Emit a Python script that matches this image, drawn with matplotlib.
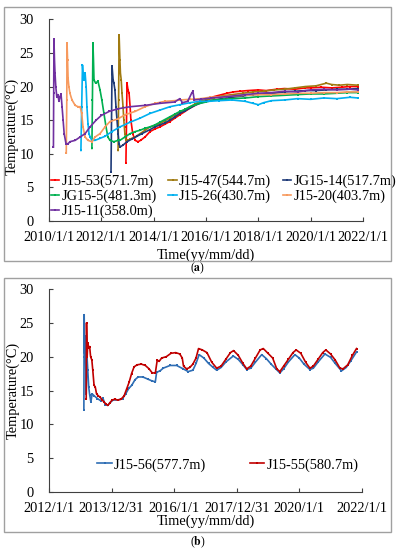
import matplotlib.pyplot as plt
from matplotlib.patches import Rectangle

plt.rcParams['font.family'] = ['Liberation Serif', 'DejaVu Serif']
plt.rcParams['mathtext.fontset'] = 'stix'
FS = 10.4

# ---- panel (a) data: decimal year, temperature (deg C)
t_j53 = [2012.94, 2012.96, 2012.98, 2013.02, 2013.06, 2013.10, 2013.13, 2013.20, 2013.29, 2013.40,
         2013.50, 2013.67, 2013.86, 2014.05, 2014.24, 2014.43, 2014.62, 2014.81, 2015.00, 2015.20,
         2015.39, 2015.58, 2015.77, 2016.00, 2016.30, 2016.60, 2016.80, 2017.05, 2017.30, 2017.60,
         2018.00, 2018.30, 2018.70, 2019.00, 2019.40, 2019.80, 2020.00, 2020.40, 2020.80, 2021.20, 2021.50, 2021.80]
T_j53 = [8.7, 14.0, 20.5, 19.5, 19.0, 17.0, 15.0, 13.0, 12.0, 11.8,
         12.0, 12.5, 13.3, 13.7, 14.0, 14.4, 14.8, 15.3, 15.8, 16.3,
         16.8, 17.2, 17.7, 18.0, 18.5, 18.8, 19.0, 19.2, 19.3, 19.4,
         19.5, 19.4, 19.6, 19.7, 19.6, 19.8, 19.8, 19.9, 19.8, 19.9, 20.0, 20.0]

t_j47 = [2012.64, 2012.66, 2012.68, 2012.71, 2012.73, 2012.76, 2012.79, 2012.83, 2012.86, 2012.90,
         2012.94, 2013.02, 2013.10, 2013.29, 2013.48, 2013.67, 2013.86, 2014.05, 2014.24, 2014.43,
         2014.62, 2014.81, 2015.00, 2015.20, 2015.39, 2015.58, 2015.77, 2016.00, 2016.30, 2016.60,
         2017.00, 2017.40, 2017.80, 2018.20, 2018.60, 2019.00, 2019.40, 2019.80, 2020.20, 2020.60,
         2020.80, 2021.10, 2021.40, 2021.80]
T_j47 = [10.5, 18.0, 27.6, 24.0, 22.0, 21.0, 19.0, 17.0, 15.0, 13.0,
         12.0, 12.0, 12.2, 12.5, 13.0, 13.5, 14.0, 14.2, 14.5, 14.9,
         15.3, 15.8, 16.2, 16.6, 17.0, 17.4, 17.8, 18.0, 18.3, 18.6,
         18.8, 19.0, 19.2, 19.3, 19.5, 19.6, 19.8, 20.0, 20.1, 20.5,
         20.3, 20.2, 20.3, 20.2]

t_jg14 = [2012.37, 2012.39, 2012.41, 2012.45, 2012.48, 2012.52, 2012.56, 2012.60, 2012.64, 2012.68,
          2012.71, 2012.83, 2012.98, 2013.17, 2013.36, 2013.55, 2013.86, 2014.05, 2014.24, 2014.43,
          2014.62, 2014.81, 2015.00, 2015.20, 2015.39, 2015.58, 2015.77, 2016.00, 2016.30, 2016.60,
          2017.00, 2017.40, 2017.80, 2018.20, 2018.60, 2019.00, 2019.40, 2019.80, 2020.20, 2020.60,
          2021.00, 2021.40, 2021.80]
T_jg14 = [7.3, 15.0, 23.0, 21.0, 20.5, 19.5, 17.0, 15.0, 13.0, 11.5,
          11.0, 11.3, 11.8, 12.2, 12.6, 13.0, 13.6, 14.0, 14.3, 14.6,
          15.0, 15.5, 16.0, 16.4, 16.8, 17.2, 17.5, 17.8, 18.0, 18.2,
          18.4, 18.6, 18.8, 18.9, 19.0, 19.2, 19.3, 19.4, 19.4, 19.5,
          19.6, 19.6, 19.7]

t_jg5 = [2011.64, 2011.66, 2011.68, 2011.70, 2011.72, 2011.78, 2011.87, 2011.95, 2012.02, 2012.10,
         2012.18, 2012.25, 2012.33, 2012.48, 2012.64, 2012.71, 2012.90, 2013.10, 2013.29, 2013.48,
         2013.67, 2013.86, 2014.05, 2014.24, 2014.43, 2014.62, 2014.81, 2015.00, 2015.20, 2015.39,
         2015.58, 2015.77, 2016.00, 2016.30, 2016.70, 2017.00, 2017.50, 2018.00, 2018.50, 2019.00,
         2019.50, 2020.00, 2020.50, 2021.00, 2021.40, 2021.80]
T_jg5 = [10.8, 18.0, 26.4, 24.0, 21.0, 20.5, 20.8, 19.5, 18.0, 16.0,
         14.0, 12.5, 12.0, 11.8, 12.0, 12.0, 12.5, 13.0, 13.3, 13.5,
         13.8, 14.0, 14.3, 14.7, 15.1, 15.5, 15.9, 16.3, 16.6, 17.0,
         17.3, 17.5, 17.7, 18.0, 18.1, 18.2, 18.3, 18.5, 18.6, 18.7,
         18.8, 18.9, 18.9, 19.0, 19.1, 19.1]

t_j26 = [2011.22, 2011.25, 2011.28, 2011.30, 2011.34, 2011.38, 2011.42, 2011.45, 2011.49, 2011.53,
         2011.57, 2011.64, 2011.76, 2011.95, 2012.14, 2012.40, 2012.71, 2013.10, 2013.48, 2013.86,
         2014.24, 2014.62, 2015.00, 2015.39, 2015.77, 2016.10, 2016.50, 2017.00, 2017.50, 2017.80,
         2018.00, 2018.20, 2018.50, 2019.00, 2019.50, 2020.00, 2020.50, 2021.00, 2021.50, 2021.80]
T_j26 = [10.5, 17.0, 23.2, 22.0, 21.0, 22.0, 20.0, 17.0, 14.5, 13.0,
         12.5, 12.0, 12.0, 12.3, 12.6, 13.3, 14.0, 14.7, 15.3, 16.0,
         16.5, 17.0, 17.3, 17.6, 17.8, 17.8, 17.9, 18.0, 17.8, 17.5,
         17.3, 17.6, 17.9, 18.0, 18.2, 18.1, 18.3, 18.2, 18.4, 18.3]

t_j20 = [2010.66, 2010.68, 2010.69, 2010.71, 2010.73, 2010.76, 2010.80, 2010.88, 2011.00, 2011.11,
         2011.19, 2011.25, 2011.30, 2011.38, 2011.49, 2011.64, 2011.76, 2011.95, 2012.14, 2012.33,
         2012.64, 2012.90, 2013.29, 2013.67, 2014.05, 2014.43, 2014.80, 2015.00, 2015.40, 2015.80,
         2016.15, 2016.60, 2017.00, 2017.50, 2018.00, 2018.50, 2019.00, 2019.50, 2020.00, 2020.50,
         2021.00, 2021.40, 2021.80]
T_j20 = [10.1, 18.0, 26.4, 24.0, 21.2, 20.0, 19.0, 18.0, 17.2, 17.0,
         17.0, 16.0, 14.0, 12.5, 12.0, 11.8, 12.5, 13.0, 14.0, 14.8,
         15.2, 15.8, 16.3, 17.0, 17.5, 17.8, 17.9, 18.0, 18.1, 18.2,
         18.4, 18.5, 18.6, 18.7, 18.8, 18.8, 18.9, 19.0, 19.0, 19.1,
         19.1, 19.2, 19.2]

t_j11 = [2010.17, 2010.18, 2010.19, 2010.21, 2010.23, 2010.26, 2010.30, 2010.34, 2010.38, 2010.42,
         2010.46, 2010.50, 2010.54, 2010.58, 2010.65, 2010.73, 2010.80, 2011.00, 2011.19, 2011.38,
         2011.57, 2011.80, 2012.00, 2012.30, 2012.64, 2013.10, 2013.67, 2014.24, 2014.80, 2015.00,
         2015.10, 2015.30, 2015.45, 2015.50, 2015.55, 2015.80, 2016.20, 2016.80, 2017.50, 2018.00,
         2018.50, 2019.00, 2019.50, 2020.00, 2020.50, 2021.00, 2021.50, 2021.80]
T_j11 = [11.0, 19.0, 27.0, 24.0, 22.0, 20.0, 18.4, 18.8, 17.8, 18.5,
         18.9, 17.0, 15.0, 13.0, 11.5, 11.5, 11.8, 12.0, 12.5, 13.0,
         14.0, 15.0, 15.7, 16.3, 16.7, 17.0, 17.2, 17.5, 17.7, 18.2,
         17.6, 17.8, 19.0, 19.3, 18.0, 18.1, 18.3, 18.5, 18.8, 19.0,
         19.1, 19.3, 19.2, 19.5, 19.6, 19.5, 19.6, 19.5]

labels_a = ['J15-53(571.7m)', 'J15-47(544.7m)', 'JG15-14(517.7m)', 'JG15-5(481.3m)',
            'J15-26(430.7m)', 'J15-20(403.7m)', 'J15-11(358.0m)']
colors_a = ['#FF0000', '#A07A10', '#1F3B78', '#00B050', '#00B0F0', '#F79A5E', '#7030A0']

# ---- panel (b) data
t_j56 = [2013.115, 2013.12, 2013.125, 2013.13, 2013.14, 2013.15, 2013.17, 2013.19, 2013.21, 2013.24,
         2013.27, 2013.30, 2013.34, 2013.38, 2013.45, 2013.55, 2013.65, 2013.72, 2013.80, 2013.88,
         2013.95, 2014.05, 2014.20, 2014.35, 2014.45, 2014.55, 2014.65, 2014.75, 2014.85, 2015.00,
         2015.15, 2015.30, 2015.40, 2015.44, 2015.55, 2015.65, 2015.87, 2016.08, 2016.29, 2016.45,
         2016.60, 2016.70, 2016.80, 2016.95, 2017.10, 2017.25, 2017.36, 2017.50, 2017.65, 2017.89,
         2018.05, 2018.20, 2018.32, 2018.45, 2018.60, 2018.80, 2018.95, 2019.10, 2019.25, 2019.38,
         2019.50, 2019.65, 2019.86, 2020.00, 2020.15, 2020.34, 2020.45, 2020.60, 2020.82, 2021.00,
         2021.15, 2021.35, 2021.50, 2021.65, 2021.83]
T_j56 = [12.1, 20.0, 26.2, 24.0, 20.5, 23.0, 20.0, 14.5, 20.5, 18.0,
         15.5, 14.4, 13.3, 14.5, 14.2, 13.8, 13.5, 13.9, 12.9, 12.8,
         13.2, 13.6, 13.6, 13.8, 14.5, 15.3, 15.8, 16.6, 17.0, 17.0,
         16.7, 16.4, 16.3, 17.7, 17.9, 18.3, 18.7, 18.7, 18.2, 17.8,
         18.0, 19.0, 20.3, 19.8, 19.0, 18.4, 18.0, 18.4, 19.2, 20.1,
         19.6, 18.8, 18.1, 18.3, 19.2, 20.3, 19.7, 18.9, 18.2, 17.6,
         18.2, 19.2, 20.3, 19.8, 18.9, 18.1, 18.3, 19.2, 20.4, 19.9,
         19.0, 17.9, 18.4, 19.4, 20.7]

t_j55 = [2013.19, 2013.20, 2013.22, 2013.24, 2013.27, 2013.30, 2013.33, 2013.37, 2013.40, 2013.44,
         2013.48, 2013.52, 2013.58, 2013.64, 2013.70, 2013.76, 2013.82, 2013.88, 2013.95, 2014.02,
         2014.10, 2014.20, 2014.30, 2014.40, 2014.48, 2014.56, 2014.64, 2014.72, 2014.82, 2014.95,
         2015.08, 2015.20, 2015.30, 2015.40, 2015.46, 2015.52, 2015.60, 2015.75, 2015.90, 2016.05,
         2016.18, 2016.26, 2016.30, 2016.40, 2016.50, 2016.60, 2016.70, 2016.78, 2016.90, 2017.05,
         2017.20, 2017.36, 2017.50, 2017.65, 2017.80, 2017.90, 2018.05, 2018.20, 2018.32, 2018.45,
         2018.60, 2018.75, 2018.85, 2019.00, 2019.15, 2019.28, 2019.38, 2019.50, 2019.65, 2019.80,
         2019.90, 2020.05, 2020.20, 2020.34, 2020.45, 2020.60, 2020.75, 2020.85, 2021.00, 2021.15,
         2021.30, 2021.40, 2021.55, 2021.70, 2021.83]
T_j55 = [13.8, 25.0, 20.0, 22.0, 21.3, 21.5, 20.0, 19.5, 18.0, 15.8,
         15.5, 14.5, 14.2, 14.0, 13.6, 13.3, 13.0, 12.8, 13.2, 13.6,
         13.7, 13.6, 13.7, 14.2, 15.2, 16.2, 17.5, 18.5, 18.8, 18.9,
         18.7, 18.2, 17.6, 17.6, 19.5, 19.3, 19.8, 20.0, 20.5, 20.6,
         20.4, 19.8, 18.6, 18.2, 18.4, 18.9, 19.8, 21.2, 21.0, 20.6,
         19.2, 18.3, 18.6, 19.6, 20.6, 20.9, 20.2, 19.0, 18.2, 18.6,
         19.8, 21.0, 21.2, 20.5, 19.8, 18.2, 17.8, 18.6, 19.6, 20.6,
         21.0, 20.5, 19.2, 18.3, 18.6, 19.6, 20.6, 21.0, 20.4, 19.5,
         18.3, 18.2, 18.8, 20.2, 21.2]

ticks_a = [2010, 2012, 2014, 2016, 2018, 2020, 2022]
ticklabels_a = ['2010/1/1', '2012/1/1', '2014/1/1', '2016/1/1', '2018/1/1', '2020/1/1', '2022/1/1']
ticks_b = [2012, 2014, 2016, 2018, 2020, 2022]
ticklabels_b = ['2012/1/1', '2013/12/31', '2016/1/1', '2017/12/31', '2020/1/1', '2022/1/1']

fig = plt.figure(figsize=(3.96, 5.5), dpi=100)

# chart-area frames
for y0 in (0.5255, 0.0327):
    fig.patches.append(Rectangle((0.0101, y0), 0.977, 0.4618, transform=fig.transFigure,
                                 fill=False, edgecolor='#A0A0A0', lw=1.0))


def style_axes(ax, ticks, ticklabels):
    ax.set_ylim(0, 30)
    ax.set_yticks(range(0, 31, 5))
    ax.set_xticks(ticks)
    ax.set_xticklabels(ticklabels)
    ax.set_xlim(ticks[0], ticks[-1])
    for s in ('top', 'right'):
        ax.spines[s].set_visible(False)
    for s in ('left', 'bottom'):
        ax.spines[s].set_color('#404040')
        ax.spines[s].set_linewidth(0.8)
    ax.tick_params(axis='both', direction='in', length=3, width=0.8, color='#404040',
                   labelsize=FS)
    ax.tick_params(axis='y', pad=11)
    ax.tick_params(axis='x', pad=7)
    ax.set_xlabel('Time(yy/mm/dd)', fontsize=FS)
    ax.set_ylabel('Temperature(°C)', fontsize=FS)


# ---- panel (a)
ax1 = fig.add_axes([0.1237, 0.598, 0.793, 0.367])
series_a = [(t_j53, T_j53), (t_j47, T_j47), (t_jg14, T_jg14), (t_jg5, T_jg5),
            (t_j26, T_j26), (t_j20, T_j20), (t_j11, T_j11)]
handles = []
for (t, T), lab, c in zip(series_a, labels_a, colors_a):
    h, = ax1.plot(t, T, color=c, lw=1.2, marker='s', ms=2.1, mew=0, label=lab)
    handles.append(h)
style_axes(ax1, ticks_a, ticklabels_a)
ax1.xaxis.set_label_coords(0.5, -0.135)
ax1.yaxis.set_label_coords(-0.095, 0.47)
order = [0, 3, 6, 1, 4, 2, 5]
ax1.legend([handles[i] for i in order], [labels_a[i] for i in order], ncol=3,
           loc='upper left', bbox_to_anchor=(0.005, 0.232), frameon=False, fontsize=FS,
           borderpad=0, borderaxespad=0, handlelength=0.6, handletextpad=0.15,
           columnspacing=0.8, labelspacing=0.12)

# ---- panel (b)
ax2 = fig.add_axes([0.1237, 0.1055, 0.790, 0.369])
h1, = ax2.plot(t_j56, T_j56, color='#2E6DB4', lw=1.2, marker='s', ms=2.1, mew=0,
               label='J15-56(577.7m)')
h2, = ax2.plot(t_j55, T_j55, color='#C00000', lw=1.2, marker='s', ms=2.1, mew=0,
               label='J15-55(580.7m)')
style_axes(ax2, ticks_b, ticklabels_b)
ax2.xaxis.set_label_coords(0.5, -0.11)
ax2.yaxis.set_label_coords(-0.095, 0.5)
ax2.legend(ncol=2, loc='center left', bbox_to_anchor=(0.155, 0.133), frameon=False,
           fontsize=FS, borderpad=0, borderaxespad=0, handlelength=1.0,
           handletextpad=0.15, columnspacing=3.0)

fig.text(0.5, 1 - 268 / 550, r'($\mathbf{a}$)', ha='center', va='center', fontsize=8.5)
fig.text(0.5, 1 - 542 / 550, r'($\mathbf{b}$)', ha='center', va='center', fontsize=8.5)

fig.savefig('out.png', dpi=100)
